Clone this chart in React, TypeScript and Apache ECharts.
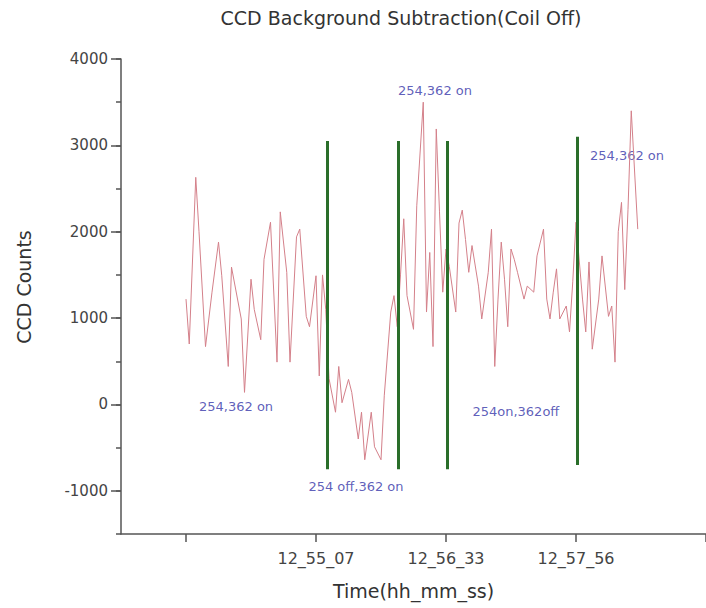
import React, { useEffect, useRef } from "react";
import * as echarts from "echarts";

const FONT = "DejaVu Sans";

const timeIdx = [
  20, 21, 23, 24, 26, 28, 30, 31, 33, 34, 37, 38, 40, 41, 43, 44, 46, 48, 49, 51,
  52, 54, 55, 57, 58, 60, 61, 62, 63, 64, 66, 67, 68, 70, 71, 73, 74, 75, 77, 78,
  80, 81, 83, 84, 85, 86, 87, 88, 90, 91, 93, 94, 95, 96, 97, 98, 99, 100, 101, 103,
  104, 105, 106, 107, 108, 110, 111, 113, 114, 115, 116, 117, 118, 119, 120, 121, 122, 124, 125, 127,
  128, 130, 131, 132, 133, 134, 135, 137, 138, 139, 140, 142, 143, 144, 145, 147, 148, 150, 151, 152,
  153, 154, 155, 156, 157, 159,
];
const counts = [
  1220, 700, 2630, 2000, 670, 1300, 1880, 1490, 440, 1590, 990, 140, 1450, 1100, 750, 1680, 2110, 490, 2230, 1530,
  490, 1940, 2030, 1020, 900, 1490, 330, 1500, 1100, 300, -90, 440, 20, 290, 140, -400, -90, -640, -90, -490,
  -640, 100, 1070, 1260, 900, 1500, 2150, 1260, 870, 2300, 3500, 1070, 1760, 670, 3190, 2230, 1300, 1800, 1600, 1070,
  2100, 2250, 1910, 1530, 1840, 1370, 990, 1530, 2030, 440, 1220, 1880, 1450, 900, 1800, 1680, 1530, 1220, 1370, 1300,
  1720, 2030, 1220, 990, 1300, 1570, 990, 1140, 840, 1420, 2110, 1220, 840, 1650, 640, 1220, 1720, 1020, 1140, 490,
  2000, 2340, 1330, 2260, 3400, 2030,
];

const xTickValues = [20, 60, 100, 140, 180];
const xTickLabels = ["", "12_55_07", "12_56_33", "12_57_56", ""];
const yTickValues = [-1000, 0, 1000, 2000, 3000, 4000];

const markerX = [63.4, 85.2, 100.3, 140.3];
const markerTop = [3050, 3050, 3050, 3100];
const markerBottom = [-750, -750, -750, -700];

const noteText = ["254,362 on", "254 off,362 on", "254,362 on", "254on,362off", "254,362 on"];
const noteX = [35.4, 72.3, 96.6, 121.5, 155.7];
const noteY = [-20, -950, 3630, -80, 2880];

const AXIS = "#555";

export default function App() {
  const ref = useRef<HTMLDivElement>(null);
  useEffect(() => {
    if (!ref.current) return;
    const chart = echarts.init(ref.current, undefined, { renderer: "svg" });
    const option: any = {
      animation: false,
      backgroundColor: "#fff",
      textStyle: { fontFamily: FONT },
      graphic: [
        {
          type: "text",
          x: 401,
          y: 18,
          style: {
            text: "CCD Background Subtraction(Coil Off)",
            fontSize: 19,
            fontFamily: FONT,
            fill: "#333",
            align: "center",
            verticalAlign: "middle",
          },
        },
        {
          type: "text",
          x: 24,
          y: 287,
          rotation: Math.PI / 2,
          style: {
            text: "CCD Counts",
            fontSize: 19,
            fontFamily: FONT,
            fill: "#333",
            align: "center",
            verticalAlign: "middle",
          },
        },
      ],
      grid: { left: 121, right: 0, top: 59, bottom: 74 },
      xAxis: {
        type: "value",
        min: 0,
        max: 180,
        splitLine: { show: false },
        axisLine: { show: true, onZero: false, lineStyle: { color: AXIS, width: 1.5 } },
        axisTick: {
          show: true,
          customValues: xTickValues,
          length: 8,
          lineStyle: { color: AXIS, width: 1.5 },
        },
        axisLabel: {
          customValues: xTickValues.slice(1, 4),
          formatter: (v: number) => {
            const i = xTickValues.indexOf(v);
            return i >= 0 ? xTickLabels[i] : "";
          },
          fontSize: 16,
          fontFamily: FONT,
          color: "#444",
          margin: 16,
        },
        name: "Time(hh_mm_ss)",
        nameLocation: "middle",
        nameGap: 47,
        nameTextStyle: { fontSize: 19, fontFamily: FONT, color: "#333" },
      },
      yAxis: [
        {
          type: "value",
          min: -1500,
          max: 4000,
          interval: 500,
          splitLine: { show: false },
          axisLine: { show: true, onZero: false, lineStyle: { color: AXIS, width: 1.5 } },
          axisTick: { show: true, length: 5, lineStyle: { color: AXIS, width: 1.5 } },
          axisLabel: { show: false },
        },
        {
          type: "value",
          position: "left",
          min: -1500,
          max: 4000,
          interval: 500,
          splitLine: { show: false },
          axisLine: { show: false, onZero: false },
          axisTick: {
            show: true,
            customValues: yTickValues,
            length: 10,
            lineStyle: { color: AXIS, width: 1.5 },
          },
          axisLabel: {
            customValues: yTickValues,
            formatter: (v: number) => String(v),
            fontSize: 15,
            fontFamily: FONT,
            color: "#444",
            margin: 13,
          },
        },
      ],
      series: [
        {
          type: "line",
          yAxisIndex: 0,
          symbol: "none",
          data: timeIdx.map((t, i) => [t, counts[i]]),
          lineStyle: { color: "#d4808a", width: 1 },
          markLine: {
            silent: true,
            symbol: ["none", "none"],
            label: { show: false },
            lineStyle: { color: "#2a6e2a", width: 3, type: "solid" },
            data: markerX.map((x, i) => [
              { coord: [x, markerTop[i]] },
              { coord: [x, markerBottom[i]] },
            ]),
          },
        },
        {
          type: "scatter",
          yAxisIndex: 0,
          symbolSize: 1,
          itemStyle: { color: "transparent" },
          label: {
            show: true,
            position: "inside",
            formatter: (p: any) => p.name,
            fontSize: 13,
            fontFamily: FONT,
            color: "#3535a8",
          },
          data: noteText.map((n, i) => ({ name: n, value: [noteX[i], noteY[i]] })),
        },
      ],
    };
    chart.setOption(option);
    return () => chart.dispose();
  }, []);
  return (
    <div
      ref={ref}
      style={{ position: "absolute", left: 0, top: 0, width: 706, height: 608 }}
    />
  );
}
